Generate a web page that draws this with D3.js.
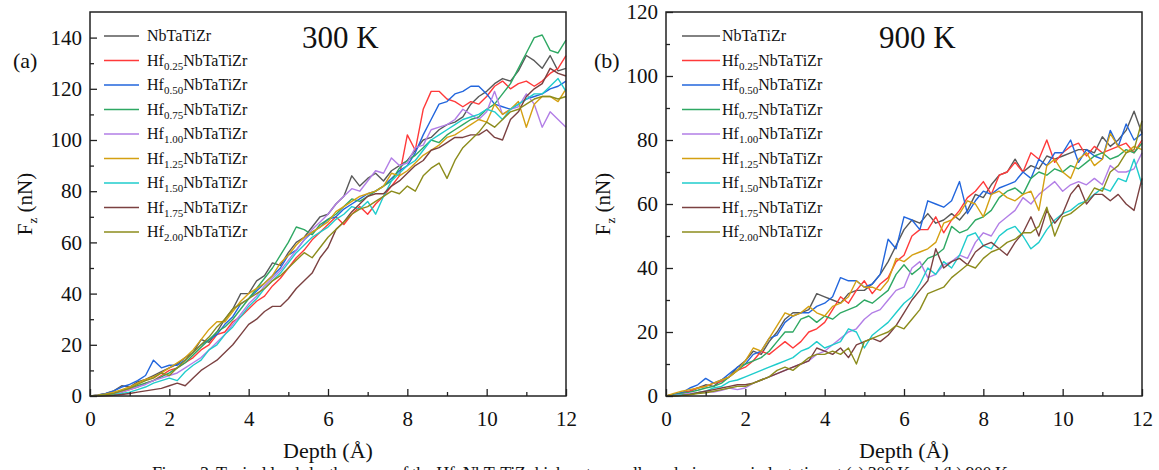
<!DOCTYPE html>
<html>
<head>
<meta charset="utf-8">
<script src="https://cdn.jsdelivr.net/npm/d3@7"></script>
<style>
  body { margin: 0; background: #fff; }
  svg { display: block; font-family: "Liberation Serif", "Times New Roman", serif; }
</style>
</head>
<body>
<div id="chart"></div>
<script>
// depth grid (Å), curves read every 0.2 Å
const DEPTH = d3.range(61).map((i) => +(i * 0.2).toFixed(1));

// legend: null = plain NbTaTiZr, otherwise the Hf subscript
const HF_SUBS = [null, "0.25", "0.50", "0.75", "1.00", "1.25", "1.50", "1.75", "2.00"];
const COLORS = ["#595959", "#ff3a3a", "#2266dd", "#2ea863", "#b27ee6", "#d4a012", "#1fcccc", "#7b4141", "#8c8c1c"];

const X_TICKS = [0, 2, 4, 6, 8, 10, 12];
const X_MINOR = [1, 3, 5, 7, 9, 11];
const Y_TICKS_A = [0, 20, 40, 60, 80, 100, 120, 140];
const Y_MINOR_A = [10, 30, 50, 70, 90, 110, 130];
const Y_TICKS_B = [0, 20, 40, 60, 80, 100, 120];
const Y_MINOR_B = [10, 30, 50, 70, 90, 110];

// (a) 300 K, Fz in nN
const A_NB = [0, 0.4, 1, 2, 4, 3.5, 5.5, 6.5, 8, 9.5, 11, 12.5, 15, 17, 22, 21, 25, 30, 34, 40, 40, 45, 47, 52, 51, 56, 60, 62, 66, 70, 71, 75, 78, 86, 82, 85, 87, 84, 88, 90, 92, 96, 100, 101, 104, 106, 107, 109, 114, 117, 119, 122, 124, 123, 127, 133, 131, 128, 133, 127, 128];
const A_025 = [0, 0.2, 0.5, 1, 1.5, 2.5, 3.5, 5, 6, 8, 10, 11, 13, 15, 18, 20, 24, 25, 29, 31, 34, 37, 39, 43, 46, 50, 54, 57, 61, 64, 67, 70, 67, 71, 74, 71, 75, 78, 82, 86, 102, 96, 112, 119, 119, 116, 115, 113, 115, 114, 117, 121, 123, 120, 122, 123, 121, 123, 126, 128, 133];
const A_050 = [0, 0.3, 1, 2, 3.5, 4.5, 6, 8, 14, 11, 12, 12, 14, 17, 20, 22, 24, 28, 31, 36, 38, 41, 44, 47, 50, 55, 57, 61, 64, 66, 69, 70, 73, 75, 77, 79, 80, 82, 85, 88, 90, 95, 102, 108, 114, 115, 118, 119, 121, 121, 118, 114, 113, 112, 114, 116, 117, 118, 120, 121, 123];
const A_075 = [0, 0.2, 0.5, 1, 2, 3, 4, 5, 6, 7.5, 9, 11, 13, 16, 19, 22, 25, 27, 30, 34, 38, 42, 46, 50, 55, 60, 66, 65, 63, 67, 69, 71, 74, 77, 76, 78, 80, 82, 84, 89, 92, 94, 97, 100, 99, 102, 104, 106, 108, 109, 112, 114, 118, 122, 128, 134, 140, 141, 135, 134, 139];
const A_100 = [0, 0.2, 0.4, 0.8, 1.5, 2.5, 3.5, 4.5, 6, 7, 8, 9, 11, 13, 15, 18, 21, 24, 28, 32, 36, 39, 43, 46, 49, 53, 57, 61, 65, 68, 71, 75, 78, 81, 80, 84, 88, 87, 93, 90, 91, 97, 98, 104, 105, 106, 108, 112, 110, 108, 111, 119, 110, 112, 113, 118, 114, 105, 111, 108, 105];
const A_125 = [0, 0.3, 0.8, 1.5, 2.5, 3.5, 5, 6.5, 7.5, 9, 11, 13, 15, 18, 22, 26, 29, 29, 33, 37, 40, 42, 44, 47, 52, 55, 59, 62, 64, 66, 68, 72, 74, 76, 78, 79, 80, 82, 87, 86, 88, 91, 94, 96, 98, 101, 102, 104, 106, 108, 107, 114, 110, 112, 115, 105, 114, 117, 117, 115, 120];
const A_150 = [0, 0.1, 0.3, 0.6, 1, 1.5, 2.5, 3.5, 5, 6, 7, 6, 9.5, 12, 14, 18, 20, 24, 27, 31, 35, 38, 42, 45, 48, 52, 56, 59, 62, 64, 66, 69, 71, 74, 73, 76, 71, 78, 84, 87, 90, 92, 96, 100, 102, 104, 106, 108, 109, 110, 112, 111, 108, 112, 114, 116, 118, 118, 121, 124, 119];
const A_175 = [0, 0, 0.1, 0.3, 0.6, 1, 1.5, 2, 2.5, 3, 4, 5, 4, 7, 10, 12, 14, 17, 20, 24, 28, 30, 33, 35, 35, 38, 42, 45, 48, 54, 58, 65, 68, 72, 75, 78, 79, 79, 82, 84, 87, 90, 92, 96, 97, 99, 101, 101, 102, 102, 104, 101, 100, 108, 111, 117, 120, 122, 128, 126, 125];
const A_200 = [0, 0.2, 0.5, 1, 2, 3, 4.5, 6, 7, 9, 8, 11, 14, 17, 20, 23, 27, 30, 34, 36, 38, 40, 42, 45, 47, 50, 53, 56, 54, 58, 62, 65, 68, 71, 73, 74, 76, 78, 80, 79, 82, 80, 86, 89, 91, 85, 92, 97, 100, 103, 107, 105, 108, 111, 112, 114, 116, 117, 117, 116, 117];

// (b) 900 K, Fz in nN
const B_NB = [0, 0.5, 1, 1.5, 2.5, 3.5, 3, 5, 6, 9, 11, 14, 13, 17, 20, 24, 26, 26, 27, 32, 31, 30, 29, 32, 33, 33, 35, 38, 42, 47, 52, 55, 54, 57, 54, 55, 57, 55, 58, 63, 62, 66, 69, 70, 74, 70, 72, 71, 75, 74, 75, 76, 77, 77, 76, 81, 78, 80, 83, 89, 82];
const B_025 = [0, 0.3, 0.8, 1.5, 2.5, 3, 4, 4.5, 6, 8, 9, 11, 14, 13, 15, 17, 15, 17, 20, 21, 23, 27, 31, 29, 33, 36, 32, 35, 37, 42, 44, 50, 52, 52, 56, 51, 55, 58, 62, 64, 67, 63, 69, 70, 73, 70, 76, 74, 80, 73, 76, 78, 79, 75, 78, 76, 77, 78, 79, 76, 80];
const B_050 = [0, 0.5, 1, 2.5, 3.5, 5.5, 4, 5, 7, 9, 10, 13, 14, 18, 19, 23, 25, 26, 26, 28, 29, 31, 37, 36, 36, 34, 35, 38, 49, 46, 56, 55, 52, 61, 60, 59, 61, 67, 57, 61, 64, 63, 65, 66, 67, 70, 68, 74, 72, 76, 76, 80, 73, 77, 75, 74, 83, 78, 85, 80, 82];
const B_075 = [0, 0.3, 0.8, 1.2, 1.8, 2.5, 3, 4, 6, 8, 10, 11, 12, 14, 17, 20, 20, 24, 25, 23, 25, 24, 26, 27, 28, 30, 29, 31, 33, 38, 41, 38, 40, 43, 44, 46, 53, 51, 52, 55, 56, 58, 62, 64, 65, 63, 68, 70, 69, 71, 70, 72, 71, 73, 75, 76, 74, 75, 77, 76, 79];
const B_100 = [0, 0.2, 0.5, 0.8, 1, 1.5, 1.2, 1.8, 2.5, 2, 2.5, 4, 5, 6, 7, 8, 9, 10, 11, 13, 14, 16, 18, 20, 21, 24, 26, 27, 30, 33, 34, 40, 42, 37, 38, 41, 42, 44, 43, 48, 51, 50, 54, 56, 58, 62, 60, 63, 65, 67, 64, 66, 67, 66, 68, 66, 72, 70, 70, 71, 76];
const B_125 = [0, 0.8, 1.5, 2, 2.5, 3, 4, 5, 6, 8, 11, 15, 14, 18, 22, 26, 25, 26, 28, 26, 25, 28, 29, 31, 36, 34, 34, 33, 36, 43, 42, 44, 45, 46, 48, 54, 55, 57, 61, 60, 56, 63, 64, 62, 61, 63, 64, 58, 72, 74, 70, 68, 74, 76, 72, 74, 82, 78, 76, 78, 77];
const B_150 = [0, 0.1, 0.3, 0.5, 1, 1.5, 2.5, 3, 4.5, 5, 6, 7, 8, 9, 10, 11, 12, 14, 15, 17, 15, 16, 17, 21, 20, 15, 19, 21, 23, 26, 29, 31, 35, 40, 38, 42, 40, 44, 50, 51, 47, 46, 50, 52, 53, 50, 46, 48, 52, 55, 57, 58, 60, 61, 63, 65, 64, 68, 67, 74, 66];
const B_175 = [0, 0, 0.2, 0.5, 1, 1.5, 2, 2.5, 3, 3.5, 3.5, 4, 5, 6, 7, 8, 9, 10, 11, 15, 14, 13, 15, 12, 16, 17, 18, 17, 19, 22, 26, 30, 33, 36, 46, 40, 42, 43, 41, 45, 47, 48, 46, 44, 48, 51, 56, 50, 58, 54, 57, 63, 66, 60, 63, 63, 61, 63, 60, 58, 68];
const B_200 = [0, 0, 0.2, 0.4, 0.8, 1, 1.5, 2, 2.5, 3, 3, 4, 5, 6, 8, 9, 8, 10, 12, 13, 13, 14, 13, 15, 10, 17, 18, 19, 20, 22, 21, 24, 27, 32, 33, 34, 37, 39, 41, 40, 43, 45, 46, 48, 49, 51, 51, 53, 59, 50, 56, 57, 59, 61, 65, 64, 70, 72, 76, 77, 86];

const CAPTION = "Figure 3. Typical load-depth curves of the HfxNbTaTiZr high-entropy alloys during nanoindentation at (a) 300 K and (b) 900 K.";

const WIDTH = 1159;
const HEIGHT = 470;
const TOP = 12;
const BOTTOM = 396;

const panels = [
  {
    left: 90, right: 566, yMax: 150, yTicks: Y_TICKS_A, yMinor: Y_MINOR_A,
    series: [A_NB, A_025, A_050, A_075, A_100, A_125, A_150, A_175, A_200],
    tag: "(a)", tagX: 13, temp: "300 K", tempX: 302, yTitleX: 32,
    legLine: [104, 139], legText: 147,
  },
  {
    left: 666, right: 1142, yMax: 120, yTicks: Y_TICKS_B, yMinor: Y_MINOR_B,
    series: [B_NB, B_025, B_050, B_075, B_100, B_125, B_150, B_175, B_200],
    tag: "(b)", tagX: 594, temp: "900 K", tempX: 879, yTitleX: 610,
    legLine: [682, 720], legText: 722,
  },
];

const svg = d3
  .select("#chart")
  .append("svg")
  .attr("width", WIDTH)
  .attr("height", HEIGHT);

panels.forEach((p) => {
  const x = d3.scaleLinear().domain([0, 12]).range([p.left, p.right]);
  const y = d3.scaleLinear().domain([0, p.yMax]).range([BOTTOM, TOP]);

  const g = svg.append("g");

  // curves first, frame and ticks on top
  const line = d3
    .line()
    .x((d, i) => x(DEPTH[i]))
    .y((d) => y(d));

  g.append("g")
    .selectAll("path")
    .data(p.series)
    .join("path")
    .attr("d", line)
    .attr("fill", "none")
    .attr("stroke", (d, i) => COLORS[i])
    .attr("stroke-width", 1.4)
    .attr("stroke-linejoin", "round");

  /** Axes: ticks point inward */
  const xAxis = g.append("g").attr("transform", `translate(0, ${BOTTOM})`);
  xAxis.call(d3.axisBottom(x).tickValues(X_TICKS).tickFormat(d3.format("d")).tickSizeInner(-7).tickSizeOuter(0).tickPadding(15));
  const xMinor = g.append("g").attr("transform", `translate(0, ${BOTTOM})`);
  xMinor.call(d3.axisBottom(x).tickValues(X_MINOR).tickFormat("").tickSizeInner(-4).tickSizeOuter(0));

  const yAxis = g.append("g").attr("transform", `translate(${p.left}, 0)`);
  yAxis.call(d3.axisLeft(y).tickValues(p.yTicks).tickSizeInner(-7).tickSizeOuter(0).tickPadding(8));
  const yMinor = g.append("g").attr("transform", `translate(${p.left}, 0)`);
  yMinor.call(d3.axisLeft(y).tickValues(p.yMinor).tickFormat("").tickSizeInner(-4).tickSizeOuter(0));

  g.selectAll(".domain").remove();
  g.selectAll(".tick line").attr("stroke", "#222").attr("stroke-width", 1.3);
  g.selectAll(".tick text")
    .attr("fill", "#111")
    .style("font-family", '"Liberation Serif", "Times New Roman", serif')
    .style("font-size", "21px");

  g.append("rect")
    .attr("x", p.left)
    .attr("y", TOP)
    .attr("width", p.right - p.left)
    .attr("height", BOTTOM - TOP)
    .attr("fill", "none")
    .attr("stroke", "#222")
    .attr("stroke-width", 1.5);

  // axis titles
  g.append("text")
    .attr("x", (p.left + p.right) / 2)
    .attr("y", 458)
    .attr("text-anchor", "middle")
    .style("font-size", "22px")
    .attr("fill", "#111")
    .text("Depth (Å)");

  const yt = g.append("text")
    .attr("transform", `translate(${p.yTitleX}, ${(TOP + BOTTOM) / 2}) rotate(-90)`)
    .attr("text-anchor", "middle")
    .style("font-size", "21px")
    .attr("fill", "#111");
  yt.append("tspan").text("F");
  yt.append("tspan").attr("dy", 5).style("font-size", "13px").text("z");
  yt.append("tspan").attr("dy", -5).text(" (nN)");

  g.append("text")
    .attr("x", p.tagX)
    .attr("y", 68)
    .style("font-size", "22px")
    .attr("fill", "#111")
    .text(p.tag);

  g.append("text")
    .attr("x", p.tempX)
    .attr("y", 48)
    .style("font-size", "31px")
    .attr("fill", "#111")
    .text(p.temp);

  /** Legend */
  const rows = g.append("g")
    .selectAll("g")
    .data(HF_SUBS)
    .join("g")
    .attr("transform", (d, i) => `translate(0, ${36 + i * 24.5})`);

  rows.append("line")
    .attr("x1", p.legLine[0])
    .attr("x2", p.legLine[1])
    .attr("stroke", (d, i) => COLORS[i])
    .attr("stroke-width", 1.6);

  rows.each(function (d) {
    const t = d3.select(this)
      .append("text")
      .attr("x", p.legText)
      .attr("y", 5)
      .style("font-size", "16px")
      .attr("fill", "#111");
    if (d === null) {
      t.text("NbTaTiZr");
    } else {
      t.append("tspan").text("Hf");
      t.append("tspan").attr("dy", 4).style("font-size", "11px").text(d);
      t.append("tspan").attr("dy", -4).text("NbTaTiZr");
    }
  });
});

// figure caption, cut off by the bottom edge as in the source image
svg.append("text")
  .attr("x", 152)
  .attr("y", 480)
  .attr("textLength", 860)
  .style("font-size", "18px")
  .attr("fill", "#111")
  .text(CAPTION);
</script>
</body>
</html>
